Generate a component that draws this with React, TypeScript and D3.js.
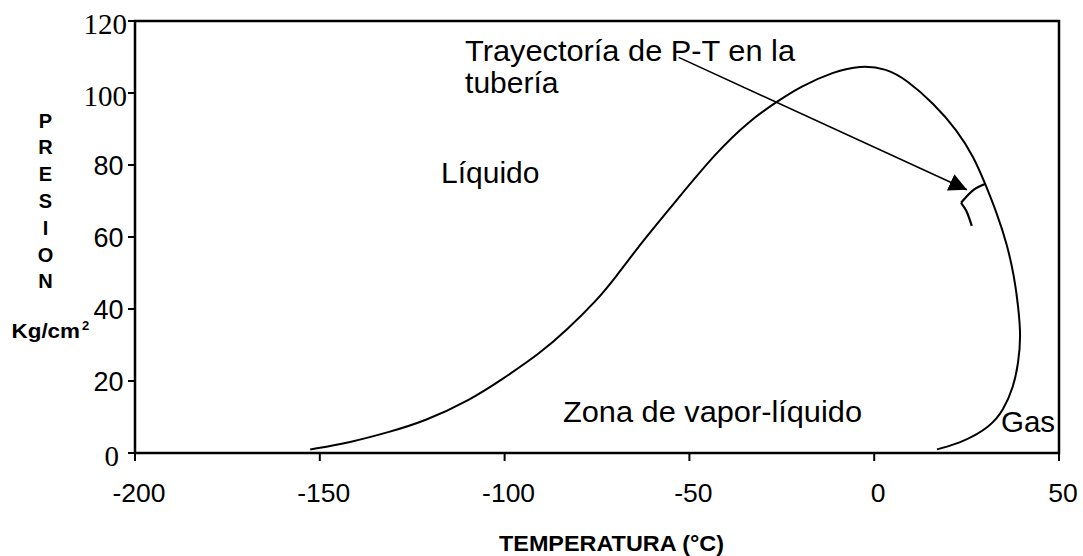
import React from "react";
import * as d3 from "d3";

// Phase envelope (temperature °C, pressure kg/cm2)
const envelopeT = [-152.6, -141.8, -131, -121.9, -109.3, -100.3, -90.4, -83.1, -75.0, -70.5, -62.4, -53.4, -42.6, -33.5, -26.3, -20, -11, -3.8, 3.4, 8.8, 16.1, 22.4, 26.9, 30.0, 33.2, 35.9, 37.9, 39.0, 39.7, 39.0, 37.7, 35.0, 31.4, 24.2, 17.0];
const envelopeP = [1.0, 2.9, 5.9, 8.7, 14.7, 20.7, 27.7, 34.2, 42.5, 48.1, 59.2, 70.3, 83.7, 92.5, 97.6, 101.8, 105.9, 107.7, 106.8, 103.6, 97.1, 89.7, 82.3, 74.9, 66.6, 58.2, 49.0, 40.6, 32.3, 24.9, 18.4, 11.9, 7.3, 3.1, 1.0];

// P-T trajectory in the pipeline (two pieces)
const trajAT = [30.0, 26.9, 23.5];
const trajAP = [74.7, 73.1, 69.5];
const trajBT = [23.5, 24.9, 26.4];
const trajBP = [69.5, 67.3, 63.1];

// annotation arrow (from, to)
const arrowT = [-52.9, 25.1];
const arrowP = [109.9, 73.1];

const xTicks = [-200, -150, -100, -50, 0, 50];
const yTicks = [0, 20, 40, 60, 80, 100, 120];
const yTickSerif = [0, 100, 120];

const W = 1083, H = 556;
const left = 135, right = 1059, top = 21, bottom = 453;

const SANS = "'Liberation Sans', Arial, sans-serif";
const SERIF = "'Liberation Serif', 'Times New Roman', serif";

export default function App() {
  const x = d3.scaleLinear().domain([-200, 50]).range([left, right]);
  const y = d3.scaleLinear().domain([0, 120]).range([bottom, top]);

  const envPts: [number, number][] = envelopeT.map((t, i) => [t, envelopeP[i]]);
  const smooth = d3.line<[number, number]>().x(d => x(d[0])).y(d => y(d[1])).curve(d3.curveBasis);
  const seg = d3.line<[number, number]>().x(d => x(d[0])).y(d => y(d[1])).curve(d3.curveCatmullRom.alpha(0.5));
  const trajA: [number, number][] = trajAT.map((t, i) => [t, trajAP[i]]);
  const trajB: [number, number][] = trajBT.map((t, i) => [t, trajBP[i]]);

  const presion = ["P", "R", "E", "S", "I", "O", "N"];

  return (
    <svg width={W} height={H} style={{ position: "absolute", left: 0, top: 0, background: "#fff" }}>
      <defs>
        <marker id="ah" viewBox="0 0 10 10" refX="10" refY="5" markerUnits="userSpaceOnUse" markerWidth="18" markerHeight="19" orient="auto">
          <path d="M0,0 L10,5 L0,10 z" fill="#000" />
        </marker>
      </defs>
      {/* frame */}
      <rect x={left} y={top} width={right - left} height={bottom - top} fill="none" stroke="#000" strokeWidth={2.5} />
      {/* y ticks */}
      {yTicks.map(t => (
        <line key={"yt" + t} x1={left - 7} x2={left} y1={y(t)} y2={y(t)} stroke="#000" strokeWidth={2} />
      ))}
      {yTicks.map(t => {
        const serif = yTickSerif.includes(t);
        const xe = t === 0 ? 119 : serif ? 127 : 123.5;
        return (
          <text key={"yl" + t} x={xe} y={y(t) + (serif ? 12.5 : 10)} textAnchor="end"
            fontFamily={serif ? SERIF : SANS} fontSize={serif ? 29 : 27} fill="#000">{t}</text>
        );
      })}
      {/* x ticks */}
      {xTicks.map(t => (
        <line key={"xt" + t} x1={x(t)} x2={x(t)} y1={bottom} y2={bottom + 8} stroke="#000" strokeWidth={2} />
      ))}
      {xTicks.map(t => (
        <text key={"xl" + t} x={x(t) + 4} y={502} textAnchor="middle" fontFamily={SANS} fontSize={26.5} fill="#000">{t}</text>
      ))}
      {/* axis titles */}
      <text x={499} y={551} fontFamily={SANS} fontWeight="bold" fontSize={22} fill="#000" textLength={225} lengthAdjust="spacingAndGlyphs">TEMPERATURA (°C)</text>
      {presion.map((c, i) => (
        <text key={"p" + i} x={45.5} y={127.5 + i * 26.8} textAnchor="middle" fontFamily={SANS} fontWeight="bold" fontSize={20} fill="#000">{c}</text>
      ))}
      <text x={11.5} y={338} fontFamily={SANS} fontWeight="bold" fontSize={20} fill="#000" textLength={68.5} lengthAdjust="spacingAndGlyphs">Kg/cm</text>
      <text x={82} y={330} fontFamily={SANS} fontWeight="bold" fontSize={13} fill="#000">2</text>

      {/* envelope */}
      <path d={smooth(envPts) || ""} fill="none" stroke="#000" strokeWidth={2} />
      {/* trajectory */}
      <path d={seg(trajA) || ""} fill="none" stroke="#000" strokeWidth={2.2} />
      <path d={seg(trajB) || ""} fill="none" stroke="#000" strokeWidth={2.2} />
      {/* arrow */}
      <line x1={x(arrowT[0])} y1={y(arrowP[0])} x2={x(arrowT[1])} y2={y(arrowP[1])} stroke="#000" strokeWidth={1.6} markerEnd="url(#ah)" />

      {/* labels */}
      <text x={x(-110.7)} y={y(109)} fontFamily={SANS} fontSize={30} fill="#000" textLength={330} lengthAdjust="spacingAndGlyphs">Trayectoría de P-T en la</text>
      <text x={x(-110.7)} y={y(100.1)} fontFamily={SANS} fontSize={30} fill="#000">tubería</text>
      <text x={x(-117.2)} y={y(74.9)} fontFamily={SANS} fontSize={30} fill="#000">Líquido</text>
      <text x={x(-84.2)} y={y(8.5)} fontFamily={SANS} fontSize={30} fill="#000" textLength={299} lengthAdjust="spacingAndGlyphs">Zona de vapor-líquido</text>
      <text x={x(34.3)} y={y(5.75)} fontFamily={SANS} fontSize={29.5} fill="#000" stroke="#fff" strokeWidth={3} paintOrder="stroke">Gas</text>
    </svg>
  );
}
